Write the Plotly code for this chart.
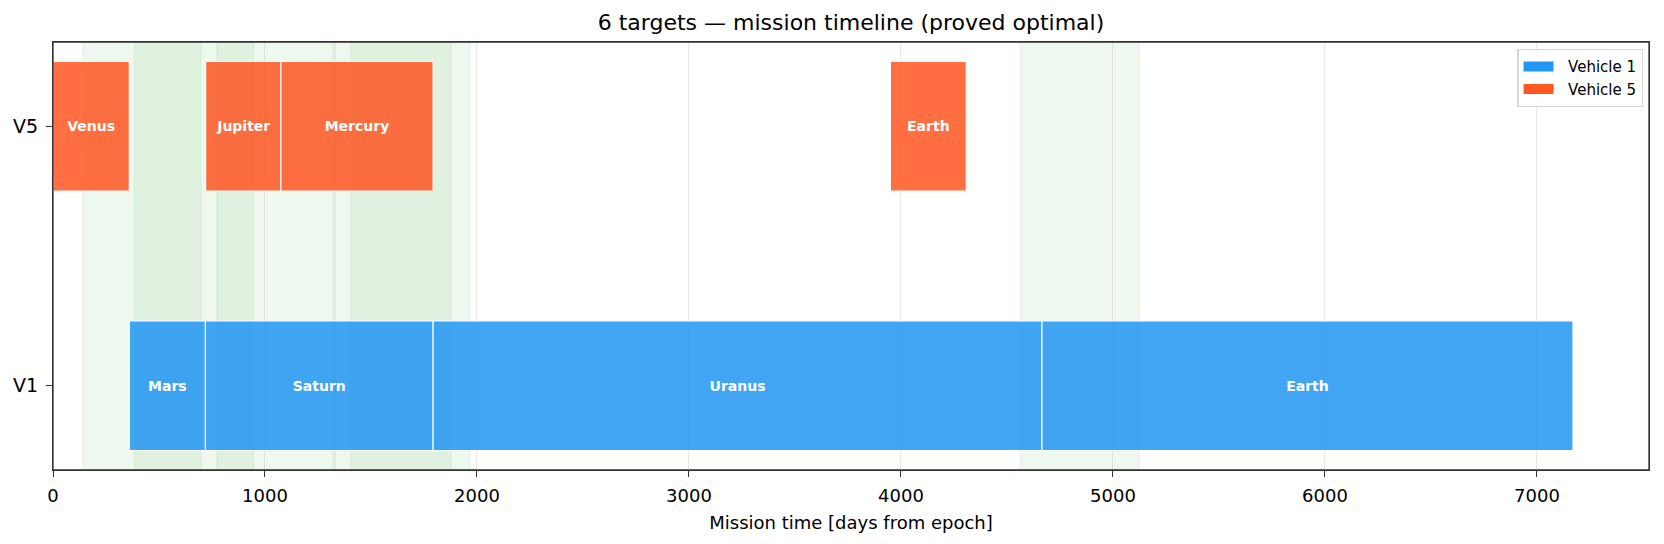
import plotly.graph_objects as go

# === Data ===
vehicles = ["V1", "V5"]
vehicle_names = ["Vehicle 1", "Vehicle 5"]
vehicle_colors = ["#2196F3", "#FF5722"]

# V1 legs
v1_targets = ["Mars", "Saturn", "Uranus", "Earth"]
v1_start = [360, 719, 1793, 4665]
v1_end = [719, 1793, 4665, 7170]

# V5 legs
v5_targets = ["Venus", "Jupiter", "Mercury", "Earth"]
v5_start = [0, 720, 1075, 3950]
v5_end = [360, 1075, 1793, 4308]

# launch / visibility windows (shaded)
window_start = [141, 384, 773, 1321, 1406, 4563]
window_end = [698, 1333, 946, 1968, 1877, 5125]

FONT = "DejaVu Sans"

fig = go.Figure()

# === Windows ===
for ws, we in zip(window_start, window_end):
    fig.add_vrect(x0=ws, x1=we, fillcolor="rgba(76,175,80,0.09)",
                  line=dict(color="rgba(76,175,80,0.10)", width=1.2),
                  layer="below")

# === Bars ===
legs = [(v1_targets, v1_start, v1_end), (v5_targets, v5_start, v5_end)]
for i, (targets, starts, ends) in enumerate(legs):
    fig.add_trace(go.Bar(
        y=[i] * len(targets),
        x=[e - s for s, e in zip(starts, ends)],
        base=starts,
        orientation="h",
        width=0.5,
        text=targets,
        textposition="inside",
        insidetextanchor="middle",
        textangle=0,
        constraintext="none",
        textfont=dict(family=FONT, size=14, color="white", weight="bold"),
        marker=dict(color=vehicle_colors[i], opacity=0.85,
                    line=dict(color="white", width=1.2)),
        showlegend=False,
        hoverinfo="skip",
    ))

# legend entries (solid patches); nbsp pads the gap after the patch
for name, color in zip(vehicle_names, vehicle_colors):
    fig.add_trace(go.Scatter(
        x=[None], y=[None], mode="lines", name="\u00a0\u00a0" + name,
        line=dict(color=color, width=11),
    ))

# axes frame
fig.add_shape(type="rect", xref="paper", yref="paper", x0=0, x1=1, y0=0, y1=1,
              line=dict(color="#333333", width=1.3), layer="above")

axis_style = dict(showline=True, mirror=True, linecolor="#333333", linewidth=1.3,
                  ticks="outside", ticklen=6, tickwidth=1.3, tickcolor="#333333",
                  zeroline=False)

fig.update_layout(
    width=1664, height=544,
    paper_bgcolor="white", plot_bgcolor="white",
    margin=dict(l=53, r=15, t=42, b=74),
    barmode="overlay",
    font=dict(family=FONT, color="black"),
    title=dict(text="6 targets — mission timeline (proved optimal)",
               font=dict(family=FONT, size=22, color="black"),
               x=0.5, xanchor="center", xref="paper",
               y=1 - 22 / 544, yanchor="middle", yref="container"),
    xaxis=dict(range=[0, max(v1_end + v5_end) * 1.05],
               tickvals=[0, 1000, 2000, 3000, 4000, 5000, 6000, 7000],
               tickfont=dict(family=FONT, size=18, color="black"),
               showgrid=True, gridcolor="rgba(176,176,176,0.3)", gridwidth=1.3,
               ticklabelstandoff=3,
               title=dict(text="Mission time [days from epoch]",
                          font=dict(family=FONT, size=18, color="black"),
                          standoff=11),
               **axis_style),
    yaxis=dict(range=[-0.325, 1.325], tickvals=[0, 1], ticktext=vehicles,
               tickfont=dict(family=FONT, size=19, color="black"),
               ticklabelstandoff=4,
               showgrid=False, **axis_style),
    legend=dict(x=0.9964, y=0.984, xanchor="right", yanchor="top",
                bgcolor="rgba(255,255,255,0.8)", bordercolor="#d6d6d6",
                borderwidth=1.3, font=dict(family=FONT, size=15, color="black"),
                itemwidth=30),
)

fig.write_html("out.html", config={"displayModeBar": False},
               post_script="document.body.style.margin='0';")
